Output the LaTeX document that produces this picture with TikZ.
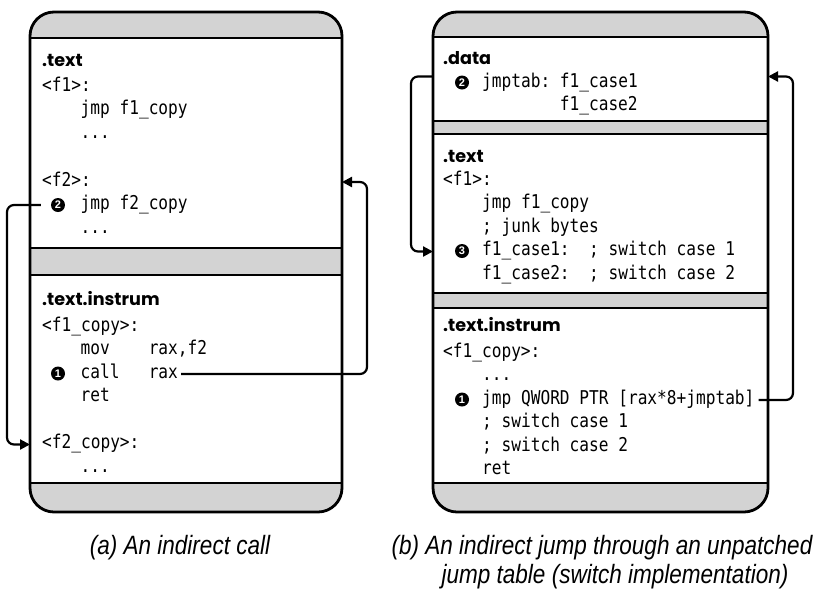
\documentclass[tikz,border=0pt]{standalone}
\usepackage{fontspec}
\newfontfamily\codefont{DejaVu Sans Mono}[FakeStretch=0.85]
\newfontfamily\digfont{Liberation Sans}
\newfontfamily\hdrfont{Poppins}
\newfontfamily\capfont{Liberation Sans}[FakeStretch=0.85]
\usetikzlibrary{arrows.meta}
\definecolor{bandgray}{RGB}{211,211,211}
\tikzset{
  code/.style={anchor=base west, inner sep=0pt, text height=11pt, text depth=3pt,
    font=\codefont\fontsize{19}{22}\selectfont},
  hdr/.style={anchor=base west, inner sep=0pt, font=\hdrfont\bfseries\fontsize{17.6}{21}\selectfont},
  mk/.style={circle, fill=black, text=white, inner sep=0pt, minimum size=14pt,
    font=\digfont\bfseries\fontsize{11}{12}\selectfont},
  sect/.style={draw=black, line width=2.8pt, fill=white},
  outerfill/.style={fill=bandgray, rounded corners=24pt},
  outerline/.style={draw=black, line width=2.8pt, rounded corners=24pt},
  link/.style={draw=black, line width=2.2pt, rounded corners=7pt,
    -{Triangle[length=10pt,width=10pt]}},
  captext/.style={anchor=base, inner sep=0pt, font=\capfont\itshape\fontsize{26.5}{29}\selectfont},
}
\begin{document}
\begin{tikzpicture}[x=1pt,y=-1pt]
\useasboundingbox (0,0) rectangle (829,595);
% ---------- panel (a) ----------
\fill[outerfill] (30,12) rectangle (342,512);
\draw[sect] (30,38) rectangle (342,248);
\draw[sect] (30,275) rectangle (342,483);
\draw[outerline] (30,12) rectangle (342,512);
\coordinate (Aw) at (30,0);
\coordinate (Ae) at (342,0);
\coordinate (Lx) at (7,0);
\coordinate (Rx) at (367,0);

\node[hdr] (hA1) at (42,66.5) {.text};
\node[code] (f1A) at (42,91) {<f1>:};
\node[code] (jf1A) at (80.5,114.5) {jmp f1\_copy};
\node[code] (d1A) at (80.5,138.5) {...};
\node[code] (f2A) at (42,186) {<f2>:};
\node[mk] (m2A) at (58,205) {2};
\node[code] (jf2A) at (80.5,209.5) {jmp f2\_copy};
\node[code] (d2A) at (80.5,233) {...};

\node[hdr] (hA2) at (42,305) {.text.instrum};
\node[code] (f1cA) at (42,331) {<f1\_copy>:};
\node[code] (movA) at (80.5,354.5) {mov\ \ \ \ rax,f2};
\node[mk] (m1A) at (58,373.5) {1};
\node[code] (callA) at (80.5,378) {call\ \ \ rax};
\node[code] (retA) at (80.5,401.5) {ret};
\node[code] (f2cA) at (42,448.5) {<f2\_copy>:};
\node[code] (d3A) at (80.5,472) {...};

\draw[link] ([xshift=-10pt]m2A.west) -| (Lx |- f2cA.west) -- (Aw |- f2cA.west);
\draw[link] ([xshift=3pt]callA.east) -| (Rx |- f2A.west) -- (Ae |- f2A.west);

% ---------- panel (b) ----------
\fill[outerfill] (433,12) rectangle (768,512);
\draw[sect] (433,37) rectangle (768,121);
\draw[sect] (433,134) rectangle (768,293);
\draw[sect] (433,308) rectangle (768,483);
\draw[outerline] (433,12) rectangle (768,512);
\coordinate (Bw) at (433,0);
\coordinate (Be) at (768,0);
\coordinate (R1x) at (411,0);
\coordinate (R2x) at (793,0);
\coordinate (dataY) at (0,76.5);

\node[hdr] (hB1) at (443,64) {.data};
\node[mk] (m2B) at (462,82.5) {2};
\node[code] (jtB) at (482,87) {jmptab:\ f1\_case1};
\node[code] (jt2B) at (559.7,110.5) {f1\_case2};

\node[hdr] (hB2) at (443,162) {.text};
\node[code] (f1B) at (443,185) {<f1>:};
\node[code] (jB) at (482,208.5) {jmp f1\_copy};
\node[code] (junkB) at (482,232) {; junk bytes};
\node[mk] (m3B) at (462,251) {3};
\node[code] (c1B) at (482,255.5) {f1\_case1:\ \ ; switch case 1};
\node[code] (c2B) at (482,279) {f1\_case2:\ \ ; switch case 2};

\node[hdr] (hB3) at (443,331.5) {.text.instrum};
\node[code] (fcB) at (443,357) {<f1\_copy>:};
\node[code] (dB) at (482,380.5) {...};
\node[mk] (m1B) at (462,399.5) {1};
\node[code] (jqB) at (482,404) {jmp QWORD PTR [rax*8+jmptab]};
\node[code] (s1B) at (482,427.5) {; switch case 1};
\node[code] (s2B) at (482,451) {; switch case 2};
\node[code] (retB) at (482,474.5) {ret};

\draw[link] (Bw |- dataY) -| (R1x |- c1B.west) -- (Bw |- c1B.west);
\draw[link] ([xshift=4pt]jqB.east) -| (R2x |- dataY) -- (Be |- dataY);

% ---------- captions ----------
\node[captext] (capA) at (180,554) {(a) An indirect call};
\node[captext] (capB1) at (602,554) {(b) An indirect jump through an unpatched};
\node[captext] (capB2) at (615,583) {jump table (switch implementation)};
\end{tikzpicture}
\end{document}
